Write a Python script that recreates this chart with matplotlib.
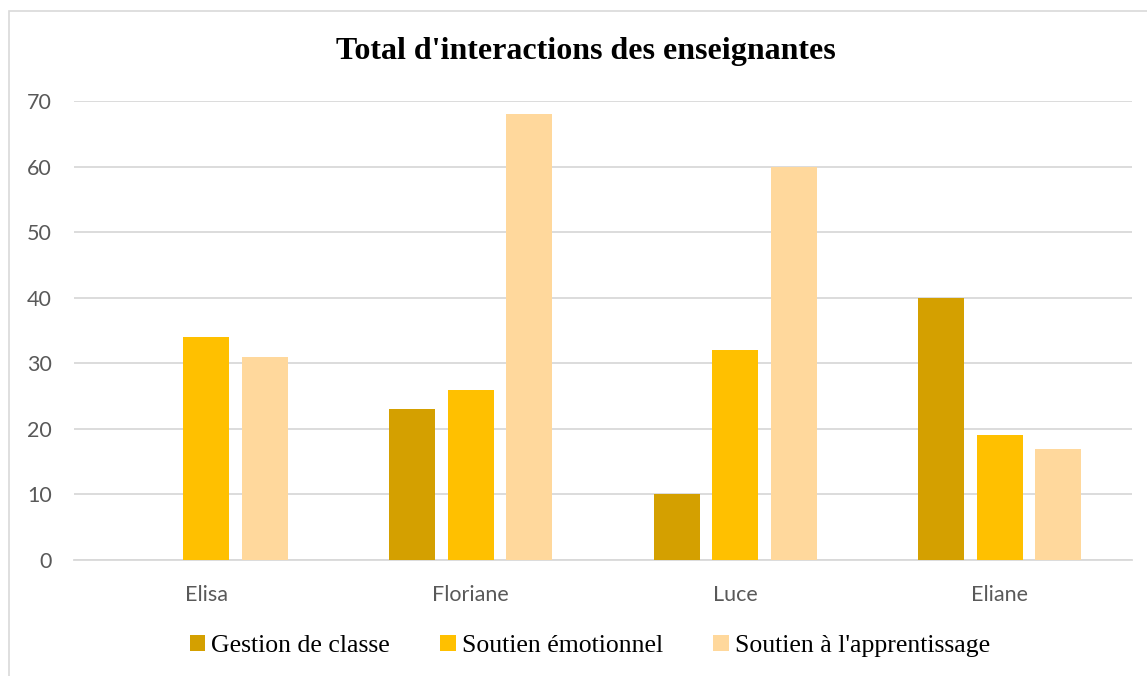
import matplotlib
matplotlib.use("Agg")
import matplotlib.pyplot as plt
from matplotlib.patches import Rectangle
import numpy as np

categories = ["Elisa", "Floriane", "Luce", "Eliane"]
series_names = ["Gestion de classe", "Soutien émotionnel", "Soutien à l'apprentissage"]
gestion = [0, 23, 10, 40]
emotionnel = [34, 26, 32, 19]
apprentissage = [31, 68, 60, 17]
colors = ["#D4A000", "#FFC000", "#FFD89C"]
yticks = [0, 10, 20, 30, 40, 50, 60, 70]

fig = plt.figure(figsize=(11.47, 6.76), dpi=100)
fig.patches.append(Rectangle((9/1147, -0.1), 1.2, 1 - 11/676 + 0.1, transform=fig.transFigure,
                             fill=False, edgecolor="#D9D9D9", linewidth=1.2))
ax = fig.add_axes([74/1147, 1 - 560/676, (1132-74)/1147, (560-101)/676])

x = np.arange(len(categories))
w = 0.174
pitch = 0.221
for i, (vals, name) in enumerate(zip([gestion, emotionnel, apprentissage], series_names)):
    ax.bar(x + (i - 1) * pitch, vals, width=w, color=colors[i], label=name, zorder=3)

ax.set_xlim(-0.5, len(categories) - 0.5)
ax.set_ylim(0, 70)
ax.set_yticks(yticks)
ax.set_xticks(x)
ax.set_xticklabels(categories)
ax.grid(axis="y", color="#D9D9D9", linewidth=1.3, zorder=0)
for s in ["top", "right", "left"]:
    ax.spines[s].set_visible(False)
ax.spines["bottom"].set_color("#D9D9D9")
ax.spines["bottom"].set_linewidth(1.3)
ax.tick_params(axis="both", length=0, colors="#595959", labelsize=15.5)
ax.tick_params(axis="y", pad=16)
ax.tick_params(axis="x", pad=18)
for lab in ax.get_xticklabels() + ax.get_yticklabels():
    lab.set_fontfamily("Lato")

fig.text(586/1147, 1 - 51/676, "Total d'interactions des enseignantes", ha="center", va="center",
         fontsize=23, fontweight="bold", family="Liberation Serif")

leg = fig.legend(loc="center", bbox_to_anchor=(590/1147, 1 - 646/676), ncol=3, frameon=False,
                 prop={"family": "Liberation Serif", "size": 18.5}, handlelength=0.6, handleheight=0.6,
                 handletextpad=0.25, columnspacing=1.95)

fig.savefig("out.png", dpi=100)
